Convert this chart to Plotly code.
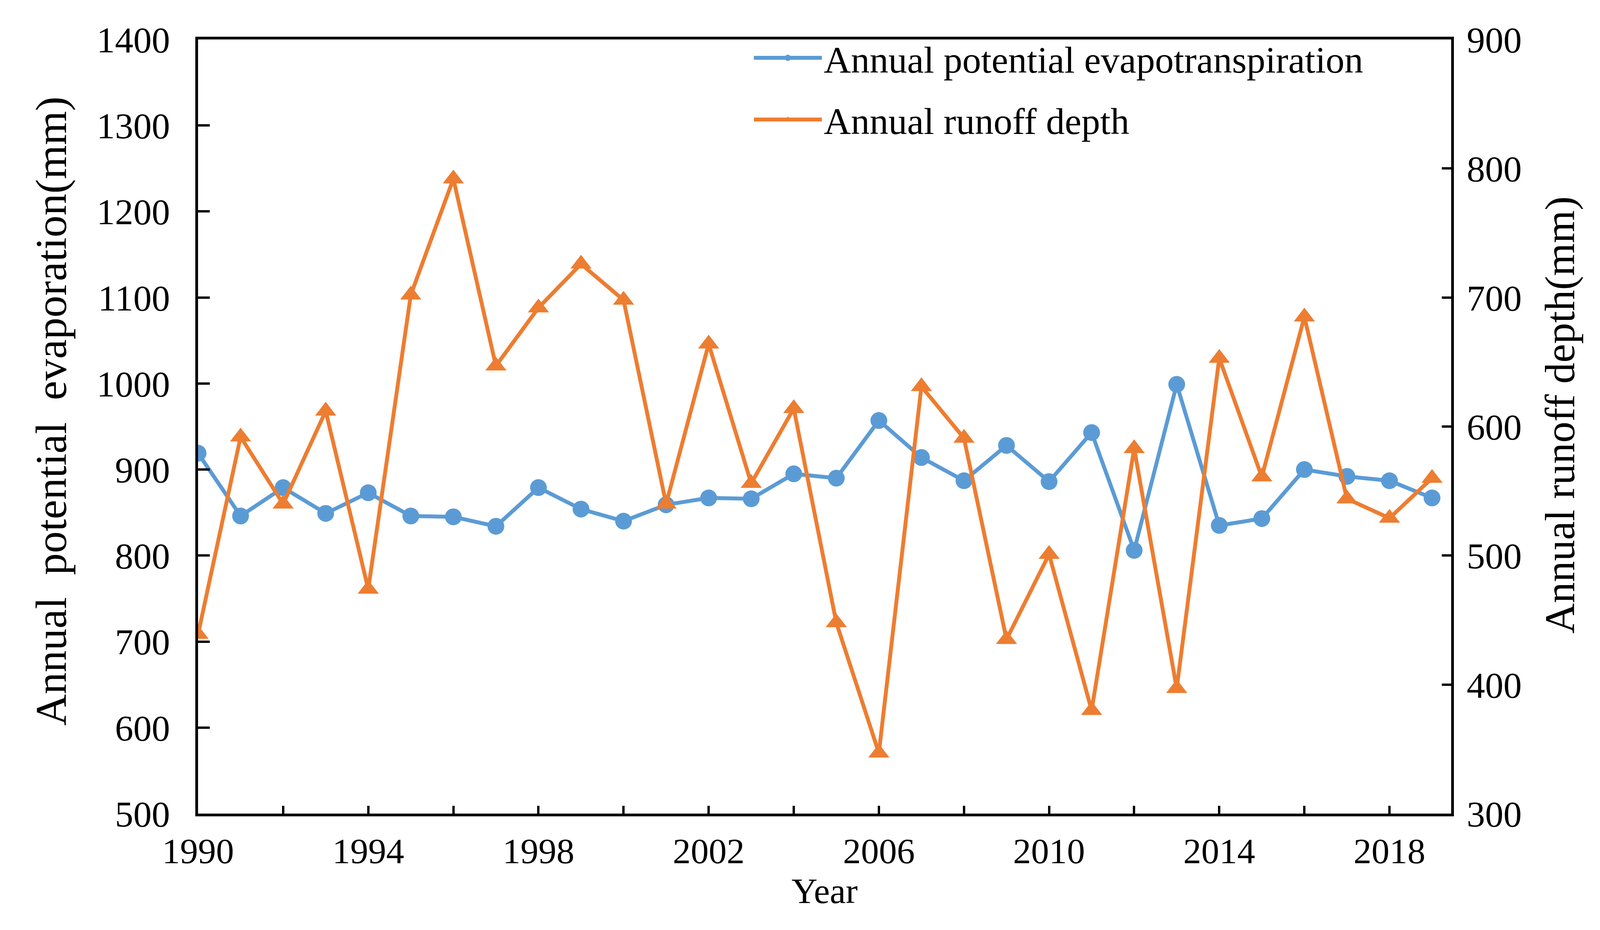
import plotly.graph_objects as go

years = list(range(1990, 2020))
pet = [919, 846, 879, 849, 873, 846, 845, 834, 879, 854,
       840, 859, 867, 866, 895, 890, 957, 914, 887, 928,
       886, 943, 806, 999, 835, 843, 900, 892, 887, 867]
runoff = [439, 592, 540, 612, 474, 702, 792, 647, 692, 726,
          698, 540, 664, 556, 614, 448, 347, 631, 591, 435,
          501, 380, 583, 397, 653, 561, 685, 544, 529, 560]
x_tick_vals = list(range(1990, 2020, 2))
x_tick_text = [str(v) if (v - 1990) % 4 == 0 else "" for v in x_tick_vals]

FONT = "Liberation Serif"
BLUE = "#5B9BD5"
ORANGE = "#ED7D31"

fig = go.Figure()
fig.add_trace(go.Scatter(
    x=years, y=pet, name="Annual potential evapotranspiration",
    mode="lines+markers", legendgroup="a",
    line=dict(color=BLUE, width=10),
    marker=dict(symbol="circle", size=43, color=BLUE),
    yaxis="y"))
fig.add_trace(go.Scatter(
    x=years, y=runoff, name="Annual runoff depth",
    mode="lines+markers", legendgroup="b",
    line=dict(color=ORANGE, width=10),
    marker=dict(symbol="triangle-up", size=47, color=ORANGE),
    yaxis="y2"))

fig.update_layout(
    width=4088, height=2373,
    paper_bgcolor="white", plot_bgcolor="white",
    margin=dict(l=499, r=381, t=93, b=298),
    font=dict(family=FONT, size=94, color="black"),
    showlegend=True,
    legend=dict(x=0.442, y=1.011, xanchor="left", yanchor="top",
                bgcolor="rgba(0,0,0,0)", font=dict(size=96, family=FONT),
                tracegroupgap=30, itemwidth=174, itemsizing="trace"),
    xaxis=dict(range=[1990, 2019.45], tickvals=x_tick_vals, ticktext=x_tick_text,
               showline=True, linecolor="black", linewidth=7, mirror=True,
               ticks="inside", ticklen=20, tickwidth=6, tickcolor="black",
               showgrid=False, zeroline=False, ticklabelstandoff=10,
               tickfont=dict(size=92),
               title=dict(text="Year", font=dict(size=92), standoff=16)),
    yaxis=dict(range=[500, 1400], dtick=100,
               showline=True, linecolor="black", linewidth=7, mirror=True,
               ticks="inside", ticklen=30, tickwidth=6, tickcolor="black",
               showgrid=False, zeroline=False, ticklabelstandoff=46,
               tickfont=dict(size=94)),
    yaxis2=dict(range=[300, 900], dtick=100, overlaying="y", side="right",
                showline=True, linecolor="black", linewidth=7,
                ticks="inside", ticklen=24, tickwidth=6, tickcolor="black",
                showgrid=False, zeroline=False, ticklabelstandoff=14,
                tickfont=dict(size=94)),
    annotations=[
        dict(text="Annual  potential  evaporation(mm)", textangle=-90,
             xref="paper", yref="paper", x=-0.117, y=0.52,
             xanchor="center", yanchor="middle", showarrow=False,
             font=dict(size=112, family=FONT)),
        dict(text="Annual runoff depth(mm)", textangle=-90,
             xref="paper", yref="paper", x=1.087, y=0.515,
             xanchor="center", yanchor="middle", showarrow=False,
             font=dict(size=108, family=FONT)),
    ],
)

fig.write_html("out.html")
